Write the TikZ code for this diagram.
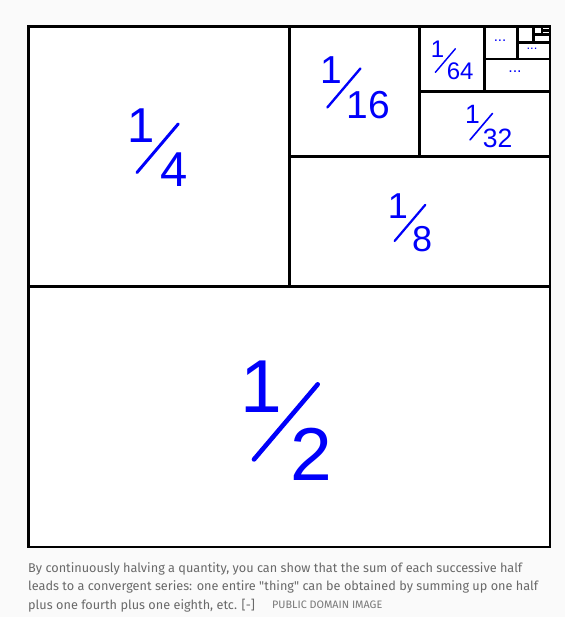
\documentclass[tikz,border=0pt]{standalone}
\usepackage{fontspec}
\setmainfont{Liberation Sans}
\newfontfamily\capfont{Fira Sans}
\definecolor{fracblue}{RGB}{0,0,250}
\definecolor{capgray}{RGB}{105,105,105}
\definecolor{creditgray}{RGB}{120,120,120}
\definecolor{pagebg}{RGB}{250,250,250}

\tikzset{
  wall/.style={line width=2.8pt, line join=miter},
  digit/.style={inner sep=0pt, text=fracblue},
  slash/.style={draw=fracblue, line cap=round},
  dots/.style={inner sep=0pt, text=fracblue},
  caption/.style={inner sep=0pt, text=capgray, font=\capfont\fontsize{12.7}{15}\selectfont},
  credit/.style={inner sep=0pt, text=creditgray, font=\capfont\fontsize{10.8}{12}\selectfont}
}

% #1 name, #2 centre, #3 numerator, #4 denominator, #5 font size, #6 digit height
\newcommand{\halfpart}[6]{%
  \begin{scope}[shift={(#2)}]
    \node[digit, font=\fontsize{#5}{#5}\selectfont] (num#1) at ({-0.5*#6},{-0.62*#6}) {#3};
    \node[digit, font=\fontsize{#5}{#5}\selectfont, anchor=west] (den#1) at ({0.04*#6},{0.64*#6}) {#4};
    \draw[slash, line width=0.085*#6pt] ({-0.63*#6},{0.73*#6}) -- ({0.55*#6},{-0.66*#6});
  \end{scope}}

\begin{document}
\begin{tikzpicture}[x=1pt,y=-1pt]
  \useasboundingbox (0,0) rectangle (565,617);
  \fill[pagebg] (0,0) rectangle (565,617);

  % the whole
  \filldraw[wall, fill=white] (28.5,26.5) rectangle (550,547);
  % halving, again and again
  \draw[wall] (28.5,286.75) -- (550,286.75);
  \draw[wall] (289.25,26.5) -- (289.25,286.75);
  \draw[wall] (289.25,156.6) -- (550,156.6);
  \draw[wall] (419.6,26.5) -- (419.6,156.6);
  \draw[wall] (419.6,91.6) -- (550,91.6);
  \draw[wall] (484.8,26.5) -- (484.8,91.6);
  \draw[wall] (484.8,59) -- (550,59);
  \draw[wall] (517.4,26.5) -- (517.4,59);
  \draw[wall] (517.4,42.8) -- (550,42.8);
  \draw[wall] (533.7,26.5) -- (533.7,42.8);
  \draw[wall] (533.7,34.6) -- (550,34.6);
  \draw[wall] (541.9,26.5) -- (541.9,34.6);
  \draw[wall] (541.9,30.6) -- (550,30.6);

  % fractions
  \halfpart{2}{288,420}{1}{2}{75}{54}
  \halfpart{4}{159,147}{1}{4}{49}{35}
  \halfpart{8}{411,222}{1}{8}{36}{26}
  \halfpart{16}{345,87}{1}{16}{39}{28}
  \halfpart{32}{482,126}{1}{32}{26.5}{19}
  \halfpart{64}{446,60}{1}{64}{24}{17}

  % the rest
  \node[dots, font=\fontsize{16}{16}\selectfont] (dots128) at (515,72) {...};
  \node[dots, font=\fontsize{15}{15}\selectfont] (dots256) at (500,41) {...};
  \node[dots, font=\fontsize{13}{13}\selectfont] (dots512) at (532,49) {...};

  % caption
  \node[caption, anchor=base west] (cap1) at (28,572) {By continuously halving a quantity, you can show that the sum of each successive half};
  \node[caption, anchor=base west] (cap2) at (28,590.5) {leads to a convergent series: one entire "thing" can be obtained by summing up one half};
  \node[caption, anchor=base west] (cap3) at (28,609) {plus one fourth plus one eighth, etc. [-]};
  \node[credit, anchor=base west] (credit) at (272,608) {PUBLIC DOMAIN IMAGE};
\end{tikzpicture}
\end{document}
